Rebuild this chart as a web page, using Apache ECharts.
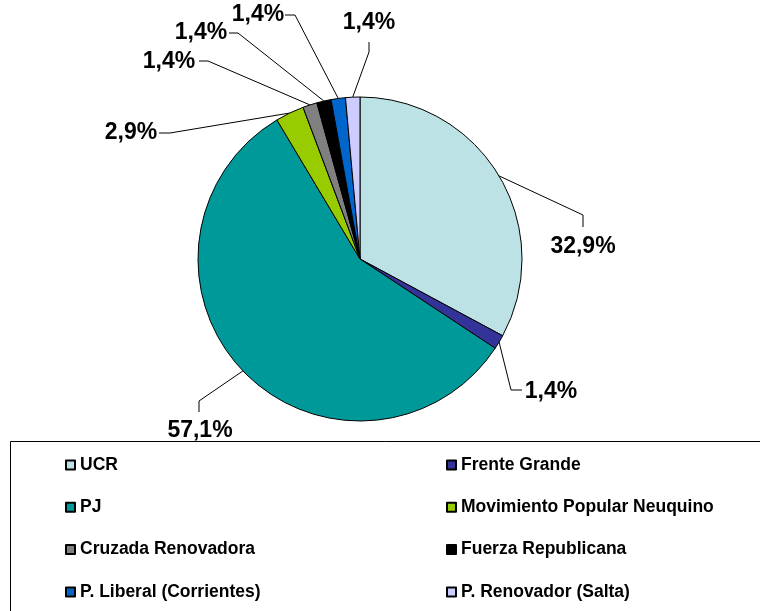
<!DOCTYPE html>
<html>
<head>
<meta charset="utf-8">
<script src="https://cdn.jsdelivr.net/npm/echarts@6/dist/echarts.min.js"></script>
<style>
    html, body { margin: 0; padding: 0; background: #fff; }
    #chart { width: 760px; height: 611px; }
</style>
</head>
<body>
<div id="chart"></div>
<script>
// bancas por partido (porcentaje sobre 70)
var parties = ['UCR', 'Frente Grande', 'PJ', 'Movimiento Popular Neuquino',
    'Cruzada Renovadora', 'Fuerza Republicana', 'P. Liberal (Corrientes)', 'P. Renovador (Salta)'];
var seats = [23, 1, 40, 2, 1, 1, 1, 1];
var colors = ['#BDE2E5', '#333399', '#009999', '#99CC00', '#808080', '#000000', '#0066CC', '#CCCCFF'];

// posiciones de etiquetas: centro del texto, codo y fin de la linea guia
var labelSpots = [
    { at: [583, 247], bend: [583, 215], end: [583, 227] },
    { at: [551, 392], bend: [511, 390], end: [522, 390] },
    { at: [200, 431], bend: [199, 401], end: [199, 412] },
    { at: [131, 133], bend: [170, 133], end: [159, 133] },
    { at: [169, 62], bend: [208, 61], end: [199, 61] },
    { at: [201, 33], bend: [238, 33], end: [229, 33] },
    { at: [258, 15], bend: [295, 15], end: [285, 15] },
    { at: [369, 23], bend: [369, 52], end: [369, 42] }
];

var cx = 360, cy = 259, radius = 162;
var fontFamily = '"Liberation Sans", Arial, sans-serif';
var total = seats.reduce(function(a, b) { return a + b; }, 0);

function midPoint(index) {
    var before = 0;
    for (var i = 0; i < index; i++) before += seats[i];
    var angle = (before + seats[index] / 2) / total * Math.PI * 2;
    return [cx + radius * Math.sin(angle), cy - radius * Math.cos(angle)];
}

var pieData = parties.map(function(name, i) {
    return { name: name, value: seats[i], itemStyle: { color: colors[i] } };
});

var legendText = { fontFamily: fontFamily, fontSize: 17.5, fontWeight: 'bold', color: '#000', lineHeight: 18 };

var chart = echarts.init(document.getElementById('chart'));

chart.setOption({
    backgroundColor: '#fff',
    animation: false,
    graphic: [{
        type: 'rect',
        z: -1,
        shape: { x: 10.5, y: 441.5, width: 800, height: 200 },
        style: { fill: 'none', stroke: '#000', lineWidth: 1 }
    }],
    legend: [{
        data: parties.filter(function(n, i) { return i % 2 === 0; }),
        orient: 'vertical',
        left: 60,
        top: 451,
        icon: 'rect',
        itemWidth: 9,
        itemHeight: 9,
        itemGap: 24.3,
        selectedMode: false,
        textStyle: legendText
    }, {
        data: parties.filter(function(n, i) { return i % 2 === 1; }),
        orient: 'vertical',
        left: 441,
        top: 451,
        icon: 'rect',
        itemWidth: 9,
        itemHeight: 9,
        itemGap: 24.3,
        selectedMode: false,
        textStyle: legendText
    }],
    series: [{
        type: 'pie',
        center: [cx, cy],
        radius: radius,
        startAngle: 90,
        clockwise: true,
        avoidLabelOverlap: false,
        data: pieData,
        itemStyle: { borderColor: '#000', borderWidth: 1 },
        emphasis: { disabled: true },
        label: {
            show: true,
            position: 'outside',
            fontFamily: fontFamily,
            fontSize: 23,
            fontWeight: 'bold',
            color: '#000',
            formatter: function(p) {
                return (p.value / total * 100).toFixed(1).replace('.', ',') + '%';
            }
        },
        labelLine: { show: true, lineStyle: { color: '#000', width: 1 } },
        labelLayout: function(params) {
            var spot = labelSpots[params.dataIndex];
            return {
                x: spot.at[0],
                y: spot.at[1],
                align: 'center',
                verticalAlign: 'middle',
                labelLinePoints: [midPoint(params.dataIndex), spot.bend, spot.end]
            };
        }
    }]
});
</script>
</body>
</html>
